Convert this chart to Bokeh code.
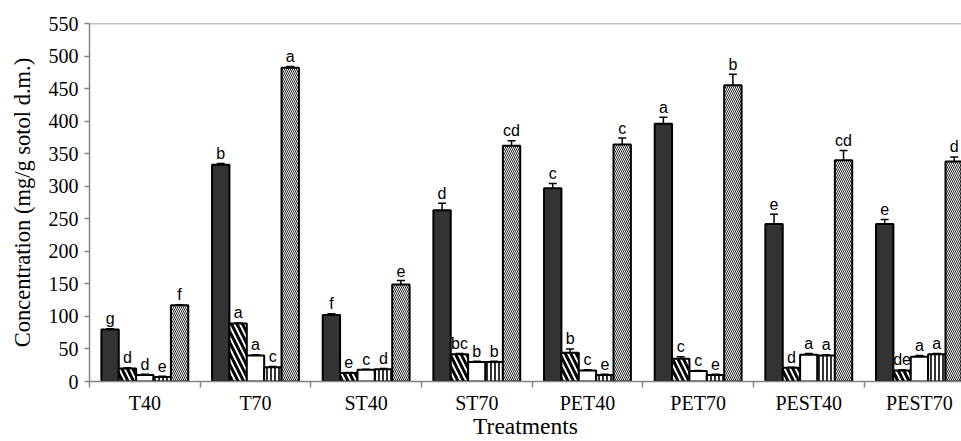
from bokeh.plotting import figure
from bokeh.models import ColumnDataSource, FixedTicker, Range1d, Span, Whisker, TeeHead
from bokeh.core.properties import value
from bokeh.embed import file_html
from bokeh.resources import INLINE

# ---- data ----
treatments = ["T40", "T70", "ST40", "ST70", "PET40", "PET70", "PEST40", "PEST70"]
y_ticks = [0, 50, 100, 150, 200, 250, 300, 350, 400, 450, 500, 550]

s1_values = [80, 333, 102, 263, 297, 396, 242, 242]
s2_values = [20, 89, 13, 42, 44, 35, 21, 17]
s3_values = [10, 40, 18, 30, 17, 16, 41, 38]
s4_values = [7, 22, 19, 30, 10, 10, 40, 42]
s5_values = [117, 482, 149, 362, 364, 455, 340, 338]

s1_err = [1, 2, 2, 11, 7, 10, 15, 7]
s2_err = [1, 1, 1, 1, 6, 3, 1, 1]
s3_err = [1, 1, 1, 1, 1, 1, 2, 2]
s4_err = [1, 1, 1, 1, 1, 1, 1, 1]
s5_err = [1, 2, 6, 8, 10, 17, 15, 7]

s1_letters = ["g", "b", "f", "d", "c", "a", "e", "e"]
s2_letters = ["d", "a", "e", "bc", "b", "c", "d", "de"]
s3_letters = ["d", "a", "c", "b", "c", "c", "a", "a"]
s4_letters = ["e", "c", "d", "b", "e", "e", "a", "a"]
s5_letters = ["f", "a", "e", "cd", "c", "b", "cd", "d"]

series_values = [s1_values, s2_values, s3_values, s4_values, s5_values]
series_err = [s1_err, s2_err, s3_err, s4_err, s5_err]
series_letters = [s1_letters, s2_letters, s3_letters, s4_letters, s5_letters]

# ---- styles ----
styles = [
    dict(fill_color="#333333"),
    dict(fill_color="white", hatch_pattern="\\", hatch_color="black", hatch_scale=11, hatch_weight=3),
    dict(fill_color="white"),
    dict(fill_color="white", hatch_pattern="|", hatch_color="black", hatch_scale=4, hatch_weight=1.6),
    dict(fill_color="white", hatch_pattern="\\", hatch_color="#222222", hatch_scale=4, hatch_weight=1),
]
bar_w = 0.157
axis_gray = "#858585"
serif = "Liberation Serif"

p = figure(width=961, height=441, output_backend="svg", toolbar_location=None,
           x_range=Range1d(-0.5, 7.38), y_range=Range1d(0, 550),
           min_border_left=89, min_border_right=0, min_border_top=23, min_border_bottom=58)
p.outline_line_color = None
p.grid.grid_line_color = None
p.background_fill_color = "white"

for k in range(5):
    xs = [i + (k - 2) * bar_w for i in range(len(treatments))]
    src = ColumnDataSource(dict(
        x=xs, top=series_values[k],
        upper=[v + e for v, e in zip(series_values[k], series_err[k])],
        lower=[v - e for v, e in zip(series_values[k], series_err[k])],
        label=series_letters[k],
    ))
    p.vbar(x="x", top="top", bottom=0, width=bar_w, source=src,
           line_color="black", line_width=2, **styles[k])
    p.add_layout(Whisker(source=src, base="x", upper="upper", lower="lower",
                         line_color="black", line_width=1.5,
                         upper_head=TeeHead(size=8, line_color="black", line_width=1.5),
                         lower_head=TeeHead(size=8, line_color="black", line_width=1.5)))
    p.text(x="x", y="upper", text="label", source=src, text_align="center",
           text_baseline="alphabetic", y_offset=-10,
           text_font=value("Liberation Sans"), text_font_size="16px", text_color="black")

p.add_layout(Span(location=550, dimension="width", line_color=axis_gray, line_width=1.5))

# y axis
ya = p.yaxis[0]
ya.ticker = FixedTicker(ticks=y_ticks)
ya.axis_line_color = axis_gray
ya.axis_line_width = 1.5
ya.major_tick_line_color = axis_gray
ya.major_tick_line_width = 1.5
ya.major_tick_out = 5
ya.major_tick_in = 0
ya.minor_tick_line_color = None
ya.major_label_text_font = serif
ya.major_label_text_font_size = "20px"
ya.major_label_text_color = "black"
ya.major_label_standoff = 6
ya.axis_label = "Concentration (mg/g sotol d.m.)"
ya.axis_label_text_font = serif
ya.axis_label_text_font_size = "22.5px"
ya.axis_label_text_font_style = "normal"
ya.axis_label_text_color = "black"
ya.axis_label_standoff = 11

# x axis
xa = p.xaxis[0]
xa.ticker = FixedTicker(ticks=list(range(len(treatments))),
                        minor_ticks=[i - 0.5 for i in range(len(treatments) + 1)])
xa.major_label_overrides = {i: t for i, t in enumerate(treatments)}
xa.axis_line_color = axis_gray
xa.axis_line_width = 1.5
xa.major_tick_line_color = None
xa.major_tick_out = 0
xa.major_tick_in = 0
xa.minor_tick_line_color = axis_gray
xa.minor_tick_line_width = 1.5
xa.minor_tick_out = 6
xa.minor_tick_in = 0
xa.major_label_text_font = serif
xa.major_label_text_font_size = "20px"
xa.major_label_text_color = "black"
xa.major_label_standoff = 4
xa.axis_label = "Treatments"
xa.axis_label_text_font = serif
xa.axis_label_text_font_size = "23.5px"
xa.axis_label_text_font_style = "normal"
xa.axis_label_text_color = "black"
xa.axis_label_standoff = -4

open("out.html", "w").write(file_html(p, INLINE))
